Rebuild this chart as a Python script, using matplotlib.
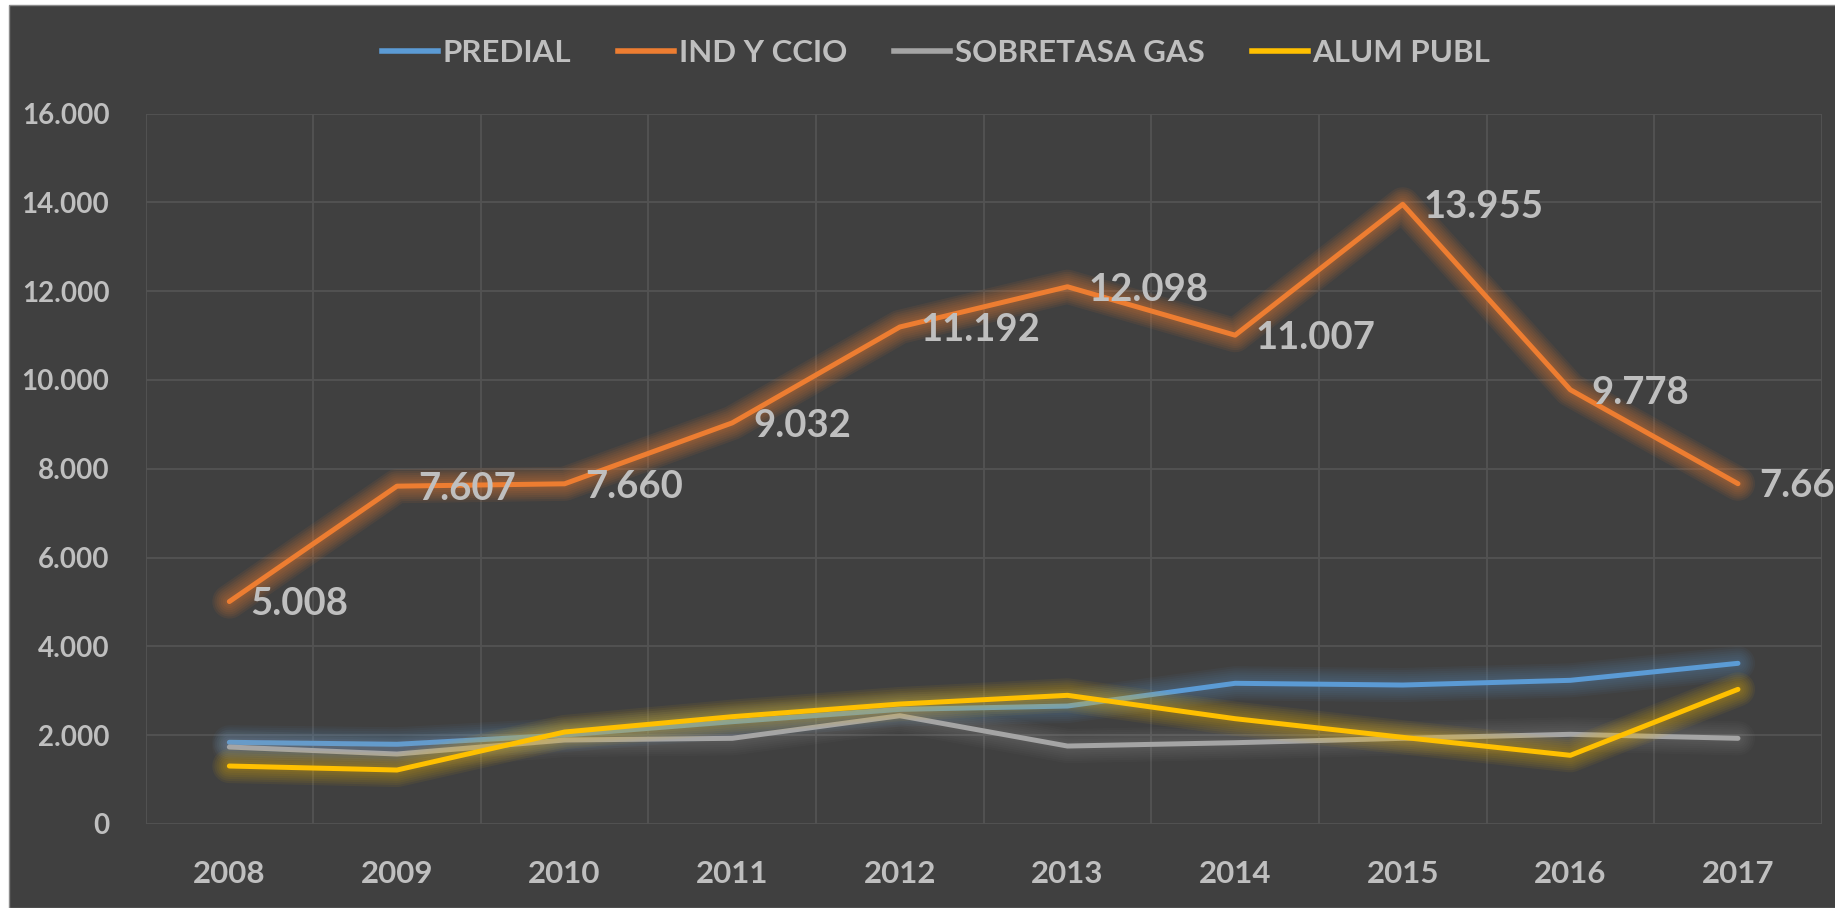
import matplotlib.pyplot as plt
import matplotlib.patheffects as pe
from matplotlib.patches import Rectangle
from matplotlib.lines import Line2D
import numpy as np

# datos
years = ['2008', '2009', '2010', '2011', '2012', '2013', '2014', '2015', '2016', '2017']
predial = [1838, 1793, 2002, 2302, 2580, 2655, 3167, 3128, 3234, 3617]
ind_ccio = [5008, 7607, 7660, 9032, 11192, 12098, 11007, 13955, 9778, 7662]
sobretasa = [1732, 1574, 1890, 1928, 2437, 1754, 1829, 1928, 2018, 1928]
alum_publ = [1304, 1214, 2070, 2415, 2700, 2896, 2370, 1950, 1545, 3031]

series_names = ['PREDIAL', 'IND Y CCIO', 'SOBRETASA GAS', 'ALUM PUBL']
colors = ['#5B9BD5', '#ED7D31', '#A5A5A5', '#FFC000']

y_ticks = list(range(0, 16001, 2000))

plt.rcParams['font.family'] = ['Lato', 'DejaVu Sans']
txt_color = '#BFBFBF'
bg = '#404040'


def fmt(v):
    return f"{v:,.0f}".replace(',', '.')


def glow(color, lw, strength):
    # efecto de resplandor aproximado
    effects = []
    for k in range(7, 0, -1):
        effects.append(pe.Stroke(linewidth=lw + k * 3, foreground=color, alpha=strength))
    effects.append(pe.Normal())
    return effects


fig = plt.figure(figsize=(18.35, 9.08), dpi=100, facecolor='white')
fig.add_artist(Rectangle((9 / 1835, 0), 1, 1 - 5 / 908, transform=fig.transFigure,
                         facecolor=bg, edgecolor='#8c8c8c', lw=1, zorder=-5))

ax = fig.add_axes([0.0793, 0.0926, 0.9135, 0.7824])
ax.set_facecolor('none')

x = np.arange(len(years))
data = [predial, ind_ccio, sobretasa, alum_publ]
strengths = [0.05, 0.08, 0.04, 0.06]
for vals, c, s in zip(data, colors, strengths):
    ax.plot(x, vals, color=c, lw=3.6, solid_capstyle='round', solid_joinstyle='round',
            path_effects=glow(c, 3.6, s), zorder=3)

# etiquetas de datos de IND Y CCIO
for xi, v in zip(x, ind_ccio):
    ax.annotate(fmt(v), (xi, v), xytext=(15, -2), textcoords='offset points',
                ha='left', va='center', fontsize=27.5, fontweight='bold',
                color=txt_color, annotation_clip=False, zorder=5)

ax.set_xlim(-0.5, len(years) - 0.5)
ax.set_ylim(0, 16000)
ax.set_yticks(y_ticks)
ax.set_yticklabels([fmt(v) for v in y_ticks])
ax.set_xticks(x)
ax.set_xticklabels(years)
ax.set_xticks(np.arange(-0.5, len(years), 1), minor=True)
ax.tick_params(axis='both', which='both', length=0, colors=txt_color)
ax.tick_params(axis='y', pad=26, labelsize=20)
ax.tick_params(axis='x', pad=26, labelsize=22.5)
for lab in ax.get_xticklabels() + ax.get_yticklabels():
    lab.set_fontweight('bold')

ax.grid(True, axis='y', which='major', color='#535353', lw=1.3)
ax.grid(True, axis='x', which='minor', color='#535353', lw=1.3)
ax.grid(False, axis='x', which='major')
ax.set_axisbelow(True)
for sp in ax.spines.values():
    sp.set_visible(False)

handles = [Line2D([], [], color=c, lw=4) for c in colors]
leg = fig.legend(handles, series_names, loc='center', bbox_to_anchor=(936 / 1835, 1 - 53 / 908),
                 ncol=4, frameon=False, fontsize=22.5, handlelength=1.8, handletextpad=0.15,
                 columnspacing=1.5)
for t in leg.get_texts():
    t.set_color(txt_color)
    t.set_fontweight('bold')

fig.savefig('out.png', dpi=100, facecolor=fig.get_facecolor())
